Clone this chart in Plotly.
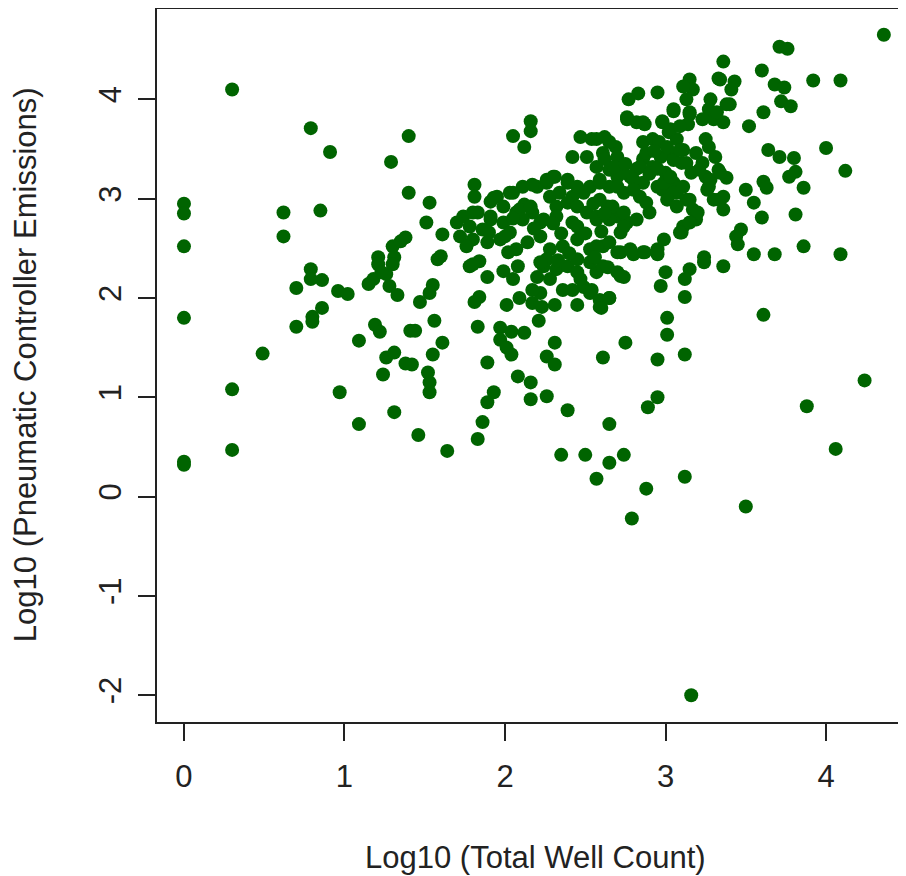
import plotly.graph_objects as go

# Log10 (Total Well Count) and Log10 (Pneumatic Controller Emissions)
log_wells_a = [0, 0, 0, 0, 0, 0, 0.30, 0.30, 0.30, 0.49,
               0.79, 0.91, 1.40, 1.29, 1.40, 0.62, 0.85, 0.62,
               1.30, 1.35, 1.38, 1.21, 1.31, 0.79, 0.79, 0.86, 0.70, 0.96, 1.02,
               1.21, 1.30, 1.18, 1.15, 1.26, 1.28, 1.33, 1.23,
               0.70, 0.80, 0.80, 0.86, 1.19, 1.22, 1.09, 1.41,
               1.26, 1.31, 1.38, 1.24, 0.97, 1.31, 1.09]
log_emis_a = [2.95, 2.85, 2.52, 1.80, 0.35, 0.32, 4.10, 1.08, 0.47, 1.44,
              3.71, 3.47, 3.63, 3.37, 3.06, 2.86, 2.88, 2.62,
              2.52, 2.57, 2.61, 2.41, 2.41, 2.29, 2.19, 2.18, 2.10, 2.07, 2.04,
              2.34, 2.34, 2.19, 2.14, 2.24, 2.12, 2.03, 2.26,
              1.71, 1.81, 1.76, 1.90, 1.73, 1.66, 1.57, 1.67,
              1.40, 1.45, 1.34, 1.23, 1.05, 0.85, 0.73]

log_wells_b = [2.95, 2.77, 2.83, 2.76, 2.82, 2.87, 2.16, 2.16, 2.05, 2.12,
               2.47, 2.54, 2.62, 2.69, 2.42, 2.51,
               2.86, 2.92, 2.86, 2.82, 2.78, 2.86, 2.95, 2.70, 2.65, 2.74, 2.84,
               2.57, 2.59, 2.53, 2.49, 2.30, 2.26, 2.39, 2.42, 2.34, 2.28, 2.20,
               2.11, 2.03, 1.95, 1.91, 1.81, 1.81,
               2.12, 2.07, 2.17, 2.24, 2.32, 2.39, 2.45, 2.51, 2.57, 2.64, 2.70, 2.76, 2.82, 2.90,
               1.74, 1.83, 1.91, 1.99, 1.78, 1.86, 1.72, 1.80, 1.89, 1.97, 2.03, 2.07, 2.14, 2.22,
               2.28, 2.36, 2.45, 2.53, 2.61, 2.70, 2.78, 2.86, 2.95,
               1.53, 1.51, 1.61, 1.60]
log_emis_b = [4.07, 4.00, 4.06, 3.82, 3.77, 3.75, 3.78, 3.68, 3.63, 3.52,
              3.62, 3.60, 3.62, 3.52, 3.42, 3.42,
              3.57, 3.60, 3.40, 3.30, 3.22, 3.16, 3.12, 3.22, 3.12, 3.06, 3.02,
              3.32, 3.19, 3.12, 3.06, 3.22, 3.16, 3.16, 3.02, 3.06, 3.02, 3.12,
              3.12, 3.06, 3.02, 2.97, 3.14, 3.02,
              2.94, 2.86, 2.86, 2.79, 2.92, 2.96, 2.92, 2.86, 2.79, 2.92, 2.82, 2.76, 2.79, 2.86,
              2.82, 2.86, 2.79, 2.76, 2.72, 2.69, 2.62, 2.59, 2.56, 2.59, 2.66, 2.49, 2.56, 2.62,
              2.49, 2.52, 2.59, 2.49, 2.52, 2.46, 2.49, 2.46, 2.49,
              2.96, 2.76, 2.64, 2.42]

log_wells_c = [4.36, 3.71, 3.76, 3.92, 4.09, 3.60, 3.36, 3.33, 3.43, 3.41,
               3.15, 3.17, 3.11, 3.13, 3.68, 3.74, 3.72, 3.78, 3.61, 3.52,
               3.40, 3.28, 3.27, 3.30, 3.36, 3.05, 3.15, 3.14, 2.98, 3.02,
               2.96, 3.07, 3.11, 3.02, 3.19, 3.25, 3.27,
               3.10, 3.16, 3.23, 3.31, 3.33, 3.38, 3.25, 3.27,
               3.00, 3.05, 2.98, 3.07, 3.13, 3.17, 3.19, 3.11, 3.10, 2.99, 3.33, 3.36,
               3.64, 3.71, 3.80, 3.81, 3.77, 3.86, 3.61, 3.63, 3.50, 3.55, 3.60, 3.81,
               3.86, 4.09, 4.00, 4.12, 3.47, 3.44, 3.45, 3.55, 3.68, 3.24]
log_emis_c = [4.65, 4.53, 4.51, 4.19, 4.19, 4.29, 4.38, 4.21, 4.18, 4.10,
              4.20, 4.10, 4.13, 4.00, 4.15, 4.12, 3.98, 3.93, 3.87, 3.73,
              3.95, 4.00, 3.90, 3.80, 3.77, 3.90, 3.85, 3.75, 3.77, 3.67,
              3.57, 3.60, 3.49, 3.46, 3.46, 3.60, 3.52,
              3.36, 3.26, 3.36, 3.42, 3.29, 3.21, 3.22, 3.12,
              3.26, 3.16, 3.09, 3.06, 2.99, 2.89, 2.79, 2.72, 2.66, 2.59, 2.99, 2.89,
              3.49, 3.42, 3.41, 3.27, 3.22, 3.11, 3.17, 3.11, 3.09, 2.96, 2.81, 2.84,
              2.52, 2.44, 3.51, 3.28, 2.69, 2.62, 2.54, 2.44, 2.44, 2.41]

log_wells_d = [3.00, 3.15, 3.12, 2.97, 3.12, 3.24, 3.36, 3.61, 3.01, 3.01,
               3.12, 2.95, 2.95, 4.24, 3.88, 4.06, 3.12,
               2.79, 2.88, 3.50, 3.16]
log_emis_d = [2.26, 2.29, 2.19, 2.12, 2.01, 2.36, 2.32, 1.83, 1.80, 1.63,
              1.43, 1.38, 1.00, 1.17, 0.91, 0.48, 0.20,
              -0.22, 0.08, -0.10, -2.00]

log_wells_e = [1.58, 1.78, 1.84, 1.89, 1.99, 2.05, 2.08, 1.55, 1.53, 1.47, 1.84, 1.81,
               2.01, 2.09, 2.17, 2.23, 2.31, 2.45, 2.59, 2.65,
               2.20, 2.24, 2.28, 2.32, 2.36, 2.39, 2.45, 2.49, 2.53, 2.57, 2.61, 2.70, 2.74,
               2.22, 2.17, 2.26, 2.45, 2.53,
               1.56, 1.44, 1.61, 1.55, 1.42, 1.52, 1.53, 1.53,
               1.83, 1.97, 2.04, 2.12, 2.21, 1.97, 2.01, 2.04,
               2.31, 2.26, 2.31, 2.75, 2.61,
               1.89, 2.08, 2.16, 2.26, 2.16, 1.93, 1.89, 2.39, 2.65, 2.89,
               1.46, 1.64, 1.83, 1.86, 2.35, 2.50, 2.65, 2.74, 2.57]
log_emis_e = [2.39, 2.32, 2.37, 2.21, 2.27, 2.19, 2.32, 2.13, 2.05, 1.96, 2.01, 1.96,
              1.93, 2.00, 1.95, 1.91, 1.93, 1.93, 1.91, 2.00,
              2.21, 2.32, 2.19, 2.29, 2.08, 2.32, 2.26, 2.11, 2.05, 2.26, 2.32, 2.26, 2.21,
              2.05, 2.08, 2.39, 2.39, 2.36,
              1.77, 1.67, 1.55, 1.43, 1.33, 1.25, 1.15, 1.05,
              1.71, 1.70, 1.66, 1.65, 1.77, 1.58, 1.50, 1.43,
              1.55, 1.41, 1.33, 1.55, 1.40,
              1.35, 1.21, 1.15, 1.01, 0.98, 1.05, 0.95, 0.87, 0.73, 0.90,
              0.62, 0.46, 0.58, 0.75, 0.42, 0.42, 0.34, 0.42, 0.18]

log_wells_f = [2.60, 2.72, 2.57, 2.65, 2.72, 2.80, 2.87, 2.95, 2.56, 2.64, 2.72, 2.54,
               2.59, 2.65, 2.60, 3.09,
               1.76, 1.80, 2.02, 2.22, 2.47, 2.42,
               3.34, 3.38, 3.32, 2.76, 2.86, 3.05, 3.15, 2.98, 3.03, 3.09, 3.23,
               2.88, 2.97, 2.84, 2.92, 3.01, 3.05, 3.09, 3.13,
               2.57, 2.65, 2.61, 2.70, 2.65, 2.74, 2.80, 2.59, 2.70, 2.80,
               2.59, 2.67, 2.57, 2.65, 2.74, 2.74, 2.88, 2.99, 3.03, 3.05, 3.11, 3.15,
               3.01, 3.07, 3.20, 3.15, 3.28, 3.34, 3.36, 3.30, 3.26, 3.21,
               1.93, 1.99, 2.05, 2.17, 2.26, 2.31, 2.39, 2.45, 2.09, 2.16,
               1.70, 1.80, 1.91, 2.11, 2.22, 2.32, 2.42]
log_emis_f = [2.67, 2.66, 2.52, 2.56, 2.46, 2.44, 2.46, 2.44, 2.41, 2.31, 2.22, 2.08,
              1.98, 2.00, 1.90, 2.66,
              2.52, 2.34, 2.46, 2.36, 2.19, 2.08,
              4.20, 3.95, 3.87, 3.80, 3.77, 3.88, 3.87, 3.78, 3.70, 3.73, 3.80,
              3.46, 3.42, 3.32, 3.32, 3.52, 3.39, 3.49, 3.36,
              3.60, 3.57, 3.46, 3.42, 3.29, 3.26, 3.19, 3.16, 3.12, 3.09,
              2.99, 2.92, 2.82, 2.79, 2.86, 2.72, 2.96, 3.16, 3.22, 3.06, 3.12, 2.99,
              2.99, 2.92, 2.86, 2.76, 3.19, 3.26, 3.02, 2.99, 3.09, 3.29,
              3.01, 2.92, 3.06, 3.14, 3.19, 3.22, 3.19, 3.12, 2.89, 2.92,
              2.76, 2.86, 2.82, 2.79, 2.76, 2.82, 2.76]

# extra points from the densest part of the cloud
log_wells_g = [2.62, 2.68, 2.75, 2.90, 2.95, 2.93, 2.55, 2.62, 2.45, 2.35, 2.30, 2.18,
               2.05, 2.00, 1.90, 2.50, 2.40, 2.33]
log_emis_g = [3.40, 3.32, 3.35, 3.25, 3.30, 3.48, 2.95, 2.85, 2.72, 2.65, 2.75, 2.70,
              2.80, 2.62, 2.66, 2.65, 2.45, 2.38]

log_wells = (log_wells_a + log_wells_b + log_wells_c + log_wells_d
             + log_wells_e + log_wells_f + log_wells_g)
log_emis = (log_emis_a + log_emis_b + log_emis_c + log_emis_d
            + log_emis_e + log_emis_f + log_emis_g)

x_ticks = [0, 1, 2, 3, 4]
y_ticks = [-2, -1, 0, 1, 2, 3, 4]

FONT = "Liberation Sans, Arial, sans-serif"
INK = "#222222"
FS = 31

fig = go.Figure(go.Scatter(
    x=log_wells, y=log_emis, mode="markers",
    marker=dict(color="#006400", size=14, line=dict(width=0)),
    hoverinfo="x+y",
))

fig.update_layout(
    width=898, height=868,
    margin=dict(l=149, r=0, t=0, b=154),
    paper_bgcolor="white", plot_bgcolor="white",
    showlegend=False,
    font=dict(family=FONT, size=FS, color=INK),
    xaxis=dict(
        range=[-0.168, 4.498], tickvals=x_ticks, ticktext=[str(v) for v in x_ticks],
        showgrid=False, zeroline=False, showline=True, linecolor=INK, linewidth=2,
        ticks="outside", ticklen=17, tickwidth=2, tickcolor=INK,
        ticklabelstandoff=9,
        tickfont=dict(family=FONT, size=FS, color=INK),
    ),
    yaxis=dict(
        range=[-2.27, 4.92], tickvals=y_ticks, ticktext=[str(v) for v in y_ticks],
        showgrid=False, zeroline=False, showline=True, linecolor=INK, linewidth=2,
        ticks="outside", ticklen=17, tickwidth=2, tickcolor=INK,
        tickangle=-90, ticklabelstandoff=5,
        tickfont=dict(family=FONT, size=FS, color=INK),
    ),
    shapes=[dict(type="line", xref="paper", yref="paper", x0=0, x1=1, y0=1, y1=1,
                 line=dict(color=INK, width=2))],
    annotations=[
        dict(text="Log10 (Total Well Count)", xref="paper", yref="paper",
             x=0.505, y=-0.190, xanchor="center", yanchor="middle", showarrow=False,
             font=dict(family=FONT, size=FS, color=INK)),
        dict(text="Log10 (Pneumatic Controller Emissions)", xref="paper", yref="paper",
             x=-0.176, y=0.5, xanchor="center", yanchor="middle", showarrow=False,
             textangle=-90, font=dict(family=FONT, size=FS, color=INK)),
    ],
)

fig.write_html("out.html")
